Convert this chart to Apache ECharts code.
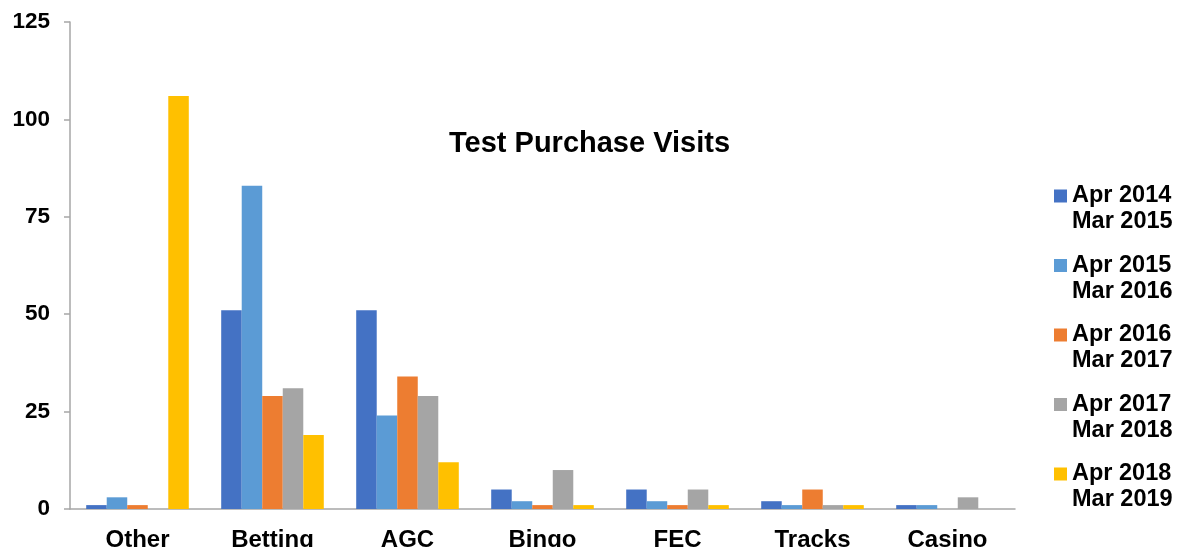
<!DOCTYPE html>
<html>
<head>
<meta charset="utf-8">
<script src="https://cdn.jsdelivr.net/npm/echarts@6/dist/echarts.min.js"></script>
<style>html,body{margin:0;padding:0;background:#fff}#c{width:1177px;height:547px}</style>
</head>
<body>
<div id="c"></div>
<script>
var categories = ['Other', 'Betting', 'AGC', 'Bingo', 'FEC', 'Tracks', 'Casino'];
var seriesNames = ['Apr 2014\nMar 2015', 'Apr 2015\nMar 2016', 'Apr 2016\nMar 2017', 'Apr 2017\nMar 2018', 'Apr 2018\nMar 2019'];
var s2014 = [1, 51, 51, 5, 5, 2, 1];
var s2015 = [3, 83, 24, 2, 2, 1, 1];
var s2016 = [1, 29, 34, 1, 1, 5, 0];
var s2017 = [0, 31, 29, 10, 5, 1, 3];
var s2018 = [106, 19, 12, 1, 1, 1, 0];
var yTicks = [0, 25, 50, 75, 100, 125];
var colors = ['#4472C4', '#5B9BD5', '#ED7D31', '#A5A5A5', '#FFC000'];

var allData = [s2014, s2015, s2016, s2017, s2018];
var font = '"Liberation Sans", Arial, sans-serif';
var chart = echarts.init(document.getElementById('c'));
chart.setOption({
  animation: false,
  color: colors,
  title: {
    text: 'Test Purchase Visits',
    left: 449, top: 129, padding: 0,
    textStyle: {fontFamily: font, fontWeight: 'bold', fontSize: 29, color: '#000'}
  },
  legend: {
    orient: 'vertical',
    left: 1054, top: 157, padding: 0,
    itemWidth: 13, itemHeight: 13, itemGap: -8.5,
    icon: 'rect',
    data: seriesNames,
    formatter: function (name) { return ' \n' + name; },
    textStyle: {fontFamily: font, fontWeight: 'bold', fontSize: 23.5, lineHeight: 26, color: '#000'}
  },
  grid: {left: 70, right: 162, top: 22, bottom: 38, containLabel: false, outerBoundsMode: 'none'},
  xAxis: {
    type: 'category',
    data: categories,
    axisLine: {lineStyle: {color: '#a6a6a6', width: 1.5}},
    axisTick: {length: 6, lineStyle: {color: '#a6a6a6', width: 1.5}},
    axisLabel: {margin: 19, fontFamily: font, fontWeight: 'bold', fontSize: 24, color: '#000'}
  },
  yAxis: {
    type: 'value',
    min: yTicks[0], max: yTicks[yTicks.length - 1], interval: 25,
    axisLine: {show: true, lineStyle: {color: '#a6a6a6', width: 1.5}},
    axisTick: {show: true, length: 6, lineStyle: {color: '#a6a6a6', width: 1.5}},
    splitLine: {show: false},
    axisLabel: {margin: 20, fontFamily: font, fontWeight: 'bold', fontSize: 22.5, color: '#000'}
  },
  series: seriesNames.map(function (n, i) {
    return {
      name: n, type: 'bar', data: allData[i],
      barGap: '0%', barCategoryGap: '24%',
      itemStyle: {color: colors[i]}
    };
  })
});
</script>
</body>
</html>
